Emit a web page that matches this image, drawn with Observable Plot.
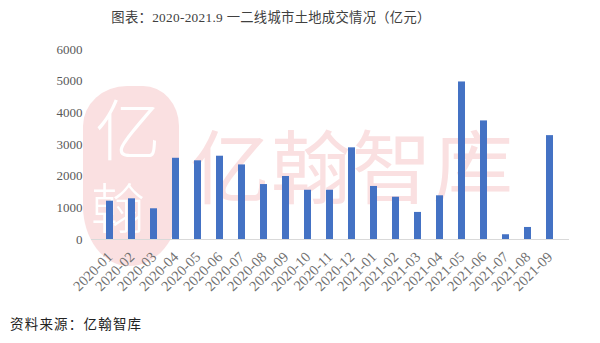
<!DOCTYPE html>
<html>
<head>
<meta charset="utf-8">
<script src="https://cdn.jsdelivr.net/npm/d3@7"></script>
<script src="https://cdn.jsdelivr.net/npm/@observablehq/plot@0.6"></script>
<style>
  html, body { margin: 0; padding: 0; background: #fff; }
  #wrap { position: relative; width: 600px; height: 343px; overflow: hidden; }
  #title { position: absolute; left: 0; top: 0; width: 542px; height: 36px; line-height: 36px; text-align: center;
    font-family: "Liberation Serif", "Noto Sans CJK SC", serif; font-size: 13.3px; color: #404040; letter-spacing: 0.3px; white-space: nowrap; }
  #chart { position: absolute; left: 0; top: 36px; }
  #caption { position: absolute; left: 10px; top: 311px; line-height: 24px;
    font-family: "Noto Sans CJK SC", sans-serif; font-size: 13.5px; color: #222; letter-spacing: 1.2px; }
  .wm { position: absolute; font-family: "Noto Sans CJK SC", sans-serif; color: #fae0e1; white-space: nowrap; }
  #wmtext { left: 190px; top: 112px; font-size: 80px; line-height: 100px; letter-spacing: 1px; }
  #wmlogo { left: 83px; top: 86px; width: 96px; height: 180px; background: #fae0e1; border-radius: 44px 36px 50px 46px / 40px 40px 60px 60px; }
  #wmlogo span { position: absolute; color: #fff; font-family: "Noto Sans CJK SC", sans-serif; font-weight: 300; }
</style>
</head>
<body>
<div id="wrap">
  <div class="wm" id="wmlogo"><span style="left:12px;top:4px;font-size:66px;line-height:72px;">亿</span><span style="left:8px;top:90px;font-size:54px;line-height:60px;">翰</span></div>
  <div class="wm" id="wmtext">亿翰智库</div>
  <div id="title">图表：2020-2021.9 一二线城市土地成交情况（亿元）</div>
  <div id="chart"></div>
  <div id="caption">资料来源：亿翰智库</div>
</div>
<script>
const months = ["2020-01","2020-02","2020-03","2020-04","2020-05","2020-06","2020-07","2020-08","2020-09","2020-10","2020-11","2020-12",
  "2021-01","2021-02","2021-03","2021-04","2021-05","2021-06","2021-07","2021-08","2021-09"];
const values = [1210, 1285, 970, 2565, 2485, 2630, 2355, 1735, 1990, 1555, 1555, 2895,
  1675, 1335, 855, 1380, 4975, 3745, 150, 380, 3280];
const yTicks = [0, 1000, 2000, 3000, 4000, 5000, 6000];

const data = months.map((m, i) => ({month: m, value: values[i]}));
const font = "'Liberation Serif', 'DejaVu Serif', serif";

const chart = Plot.plot({
  width: 600,
  height: 275,
  marginTop: 13,
  marginBottom: 72,
  marginLeft: 91,
  marginRight: 31,
  style: { fontFamily: font, fontSize: "13px", color: "#595959", background: "transparent" },
  x: { domain: months, paddingInner: 0.68, paddingOuter: 0.34, label: null },
  y: { domain: [0, 6000], label: null },
  marks: [
    Plot.barY(data, { x: "month", y: "value", fill: "#4472C4" }),
    Plot.ruleY([0], { stroke: "#d9d9d9", strokeWidth: 1.2 }),
    Plot.axisY(yTicks, { tickSize: 0, tickPadding: 9, label: null, fill: "#595959", fontFamily: font, fontSize: 13, tickFormat: d => String(d) }),
    Plot.axisX({ tickSize: 0, tickRotate: -45, tickPadding: 15, label: null, fill: "#707070", fontFamily: font, fontSize: 14.5 })
  ]
});
document.getElementById("chart").appendChild(chart);
</script>
</body>
</html>
